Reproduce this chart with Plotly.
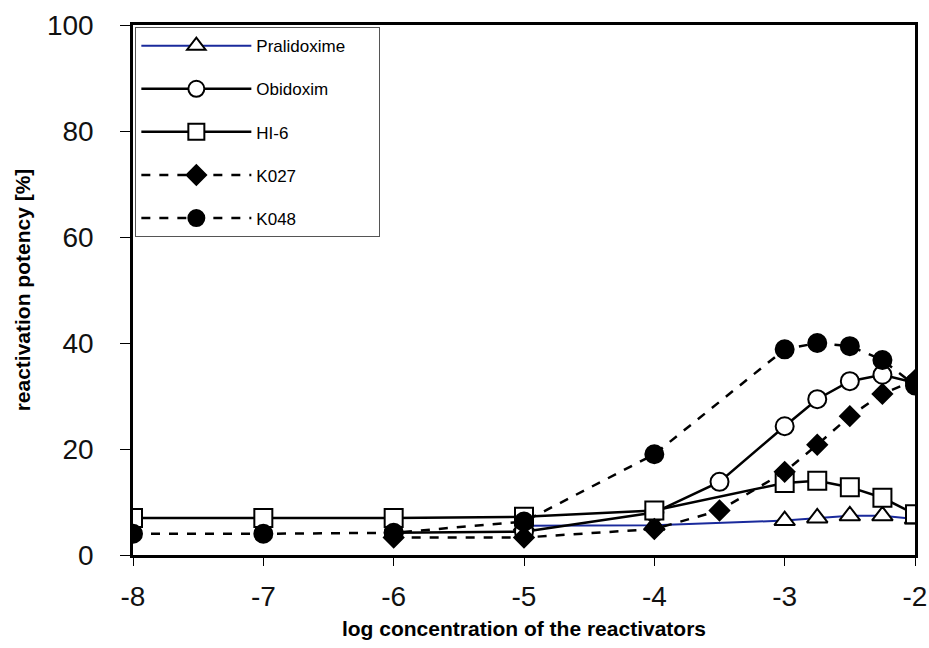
import plotly.graph_objects as go

# log concentration values
x_prali = [-5, -4, -3, -2.75, -2.5, -2.25, -2]
y_prali = [5.5, 5.6, 6.5, 7.0, 7.4, 7.4, 6.8]

x_obid = [-6, -5, -4, -3.5, -3, -2.75, -2.5, -2.25, -2]
y_obid = [4.2, 4.4, 8.0, 13.8, 24.3, 29.4, 32.8, 34.0, 32.5]

x_hi6 = [-8, -7, -6, -5, -4, -3, -2.75, -2.5, -2.25, -2]
y_hi6 = [7.0, 7.0, 7.0, 7.2, 8.4, 13.6, 14.0, 12.8, 10.8, 7.7]

x_k027 = [-6, -5, -4, -3.5, -3, -2.75, -2.5, -2.25, -2]
y_k027 = [3.3, 3.3, 4.9, 8.4, 15.7, 20.8, 26.2, 30.4, 33.0]

x_k048 = [-8, -7, -6, -5, -4, -3, -2.75, -2.5, -2.25, -2]
y_k048 = [4.0, 4.0, 4.2, 6.3, 19.0, 38.8, 40.0, 39.4, 36.8, 32.0]

names = ["Pralidoxime", "Obidoxim", "HI-6", "K027", "K048"]
x_ticks = [-8, -7, -6, -5, -4, -3, -2]
y_ticks = [0, 20, 40, 60, 80, 100]

series = [
    (names[0], x_prali, y_prali, "triangle-up", "white", "#1a2a9c", 2, "solid"),
    (names[1], x_obid, y_obid, "circle", "white", "black", 2.5, "solid"),
    (names[2], x_hi6, y_hi6, "square", "white", "black", 2.5, "solid"),
    (names[3], x_k027, y_k027, "diamond", "black", "black", 2.5, "dash"),
    (names[4], x_k048, y_k048, "circle", "black", "black", 2.5, "dash"),
]

FONT = "Liberation Sans, Arial, sans-serif"

fig = go.Figure()
for i, (nm, xs, ys, sym, fill, lc, lw, dash) in enumerate(series):
    size = {"triangle-up": 18, "circle": 18, "square": 18, "diamond": 15}[sym]
    fig.add_trace(go.Scatter(
        x=xs, y=ys, name=nm + ("\u00a0" * 6 if i == 0 else ""),
        mode="lines+markers", legendgroup=nm,
        line=dict(color=lc, width=lw, dash=dash),
        marker=dict(symbol=sym, size=size, color=fill,
                    line=dict(color="black", width=2)),
    ))

axis_font = dict(family=FONT, size=28, color="#111111")
title_font = dict(family=FONT, size=21, color="black")

fig.update_layout(
    width=929, height=648,
    margin=dict(l=133, r=14, t=25, b=93),
    paper_bgcolor="white", plot_bgcolor="white",
    showlegend=True,
    legend=dict(
        x=0.003, y=0.996, xanchor="left", yanchor="top",
        bgcolor="white", bordercolor="#555555", borderwidth=1,
        font=dict(family=FONT, size=17, color="black"),
        itemwidth=110, tracegroupgap=18,
    ),
    xaxis=dict(
        range=[-8, -2], tickvals=x_ticks, ticktext=[str(v) for v in x_ticks],
        showgrid=False, zeroline=False, showline=True, linecolor="black",
        linewidth=2.5, mirror=True, ticks="outside", ticklen=8, tickwidth=1,
        tickcolor="black", tickfont=axis_font, ticklabelstandoff=7,
        automargin=False,
        title=dict(text="<b>log concentration of the reactivators</b>",
                   font=title_font, standoff=10),
    ),
    yaxis=dict(
        range=[0, 100], tickvals=y_ticks,
        showgrid=False, zeroline=False, showline=True, linecolor="black",
        linewidth=2.5, mirror=True, ticks="outside", ticklen=10, tickwidth=1,
        tickcolor="black", tickfont=axis_font, ticklabelstandoff=21,
        automargin=False,
        title=dict(text="<b>reactivation potency [%]</b>", font=title_font, standoff=11),
    ),
)

fig.write_html(
    "out.html",
    config={"displayModeBar": False},
    post_script="document.body.style.margin='0';document.body.style.overflow='hidden';",
)
